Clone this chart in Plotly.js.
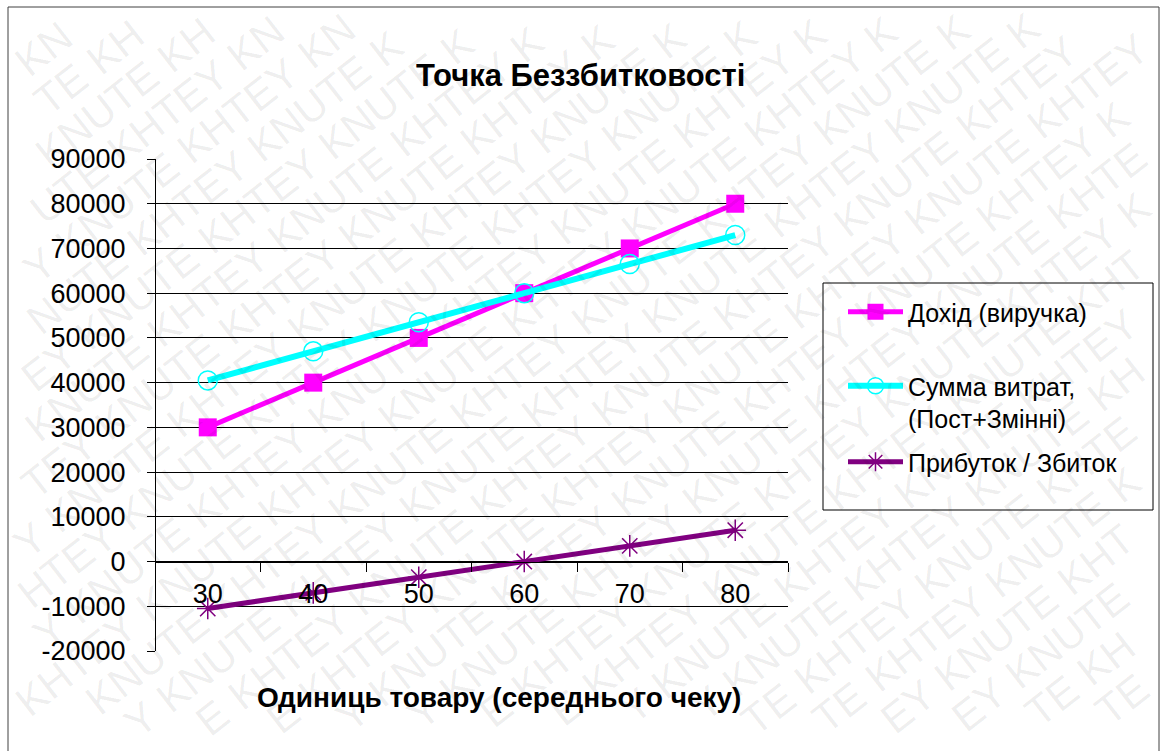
<!DOCTYPE html>
<html>
<head>
<meta charset="utf-8">
<script src="https://cdn.plot.ly/plotly-3.0.1.min.js"></script>
<style>
  html, body { margin: 0; padding: 0; background: #fff; }
  #chart { width: 1165px; height: 751px; }
</style>
</head>
<body>
<div id="chart"></div>
<script>
// ---- data ----
const categories = ['30', '40', '50', '60', '70', '80'];
const revenue = [30000, 40000, 50000, 60000, 70000, 80000];
const totalCosts = [40500, 47000, 53500, 60000, 66500, 73000];
const profit = [-10500, -7000, -3500, 0, 3500, 7000];
const yTickVals = [-20000, -10000, 0, 10000, 20000, 30000, 40000, 50000, 60000, 70000, 80000, 90000];
const yTickText = ['-20000', '-10000', '0', '10000', '20000', '30000', '40000', '50000', '60000', '70000', '80000', '90000'];
const seriesNames = ['Дохід (виручка)', 'Сумма витрат,<br>(Пост+Змінні)', 'Прибуток / Збиток'];
const chartTitle = 'Точка Беззбитковості';
const xTitle = 'Одиниць товару (середнього чеку)';
const watermarkWords = ['KHTEY', 'KNUTE'];

// ---- layout helpers (pixel -> paper) ----
const W = 1165, H = 751;
const PL = 155, PR = 788, PT = 159, PB = 651;
const px = p => (p - PL) / (PR - PL);
const py = p => (PB - p) / (PB - PT);
const FONT = 'Liberation Sans, Arial, sans-serif';
const yMin = yTickVals[0], yMax = yTickVals[yTickVals.length - 1];

const traces = [
  {
    x: categories, y: revenue, name: seriesNames[0], type: 'scatter', mode: 'lines+markers',
    line: { color: '#FF00FF', width: 5 },
    marker: { symbol: 'square', size: 18, color: '#FF00FF' },
    legend: 'legend'
  },
  {
    x: categories, y: totalCosts, name: seriesNames[1], type: 'scatter', mode: 'lines+markers',
    line: { color: '#00FFFF', width: 6 },
    marker: { symbol: 'circle-open', size: 19, color: '#00FFFF', line: { width: 1.5, color: '#00FFFF' } },
    legend: 'legend2'
  },
  {
    x: categories, y: profit, name: seriesNames[2], type: 'scatter', mode: 'lines+markers',
    line: { color: '#800080', width: 5 },
    marker: { symbol: 'asterisk-open', size: 18, color: '#800080', line: { width: 1.5, color: '#800080' } },
    legend: 'legend3'
  }
];

// watermark: words on a rotated grid; near the edges fall back to single letters that fit
const annotations = [];
const WM_SIZE = 42, WM_DEG = 38, WM_ANGLE = WM_DEG * Math.PI / 180;
const dirX = Math.cos(WM_ANGLE), dirY = -Math.sin(WM_ANGLE);
const perX = Math.sin(WM_ANGLE), perY = Math.cos(WM_ANGLE);
const rowGap = 42, wordStep = 154;
const halfH = 0.6 * WM_SIZE;
const adv = { K: 0.667, H: 0.722, T: 0.611, E: 0.667, Y: 0.667, N: 0.722, U: 0.722 };
const fits = (cx, cy, hw) => {
  for (const sa of [-1, 1]) for (const sb of [-1, 1]) {
    const qx = cx + sa * hw * dirX + sb * halfH * perX;
    const qy = cy + sa * hw * dirY + sb * halfH * perY;
    if (qx < 1 || qx > W - 1 || qy < 1 || qy > H - 1) return false;
  }
  return true;
};
const addWm = (cx, cy, txt) => annotations.push({
  xref: 'paper', yref: 'paper', x: px(cx), y: py(cy),
  text: txt, textangle: -WM_DEG, showarrow: false,
  xanchor: 'center', yanchor: 'middle',
  font: { family: FONT, size: WM_SIZE, color: 'rgba(0,0,0,0.07)' }
});
for (let i = -22; i <= 22; i++) {
  for (let j = -14; j <= 14; j++) {
    const along = j * wordStep + ((i % 2 + 2) % 2) * (wordStep / 2) - i * 20;
    const cx = 582 + i * rowGap * perX + along * dirX;
    const cy = 375 + i * rowGap * perY + along * dirY;
    const word = watermarkWords[((i + j) % 2 + 2) % 2];
    const widths = word.split('').map(c => adv[c] * WM_SIZE);
    const total = widths.reduce((a, b) => a + b, 0);
    if (fits(cx, cy, total / 2 + 2)) { addWm(cx, cy, word); continue; }
    let off = -total / 2;
    word.split('').forEach((c, k) => {
      const lc = off + widths[k] / 2;
      off += widths[k];
      const lx = cx + lc * dirX, ly = cy + lc * dirY;
      if (fits(lx, ly, widths[k] / 2 + 1)) addWm(lx, ly, c);
    });
  }
}
// x axis title
annotations.push({
  xref: 'paper', yref: 'paper', x: px(499), y: py(697),
  text: xTitle, showarrow: false, xanchor: 'center', yanchor: 'middle',
  font: { family: FONT, size: 28, color: '#000', weight: 'bold' }
});

const legendCommon = {
  bgcolor: 'rgba(0,0,0,0)', borderwidth: 0,
  font: { family: FONT, size: 25, color: '#000' },
  xanchor: 'left', yanchor: 'middle', itemwidth: 55, tracegroupgap: 0
};

const layout = {
  width: W, height: H,
  margin: { l: PL, r: W - PR, t: PT, b: H - PB, pad: 0 },
  paper_bgcolor: '#fff', plot_bgcolor: '#fff',
  font: { family: FONT, color: '#000' },
  showlegend: true,
  title: {
    text: chartTitle, xref: 'container', yref: 'container', x: 0.4985, y: 1 - 75 / H,
    xanchor: 'center', yanchor: 'middle',
    font: { family: FONT, size: 31, color: '#000', weight: 'bold' }
  },
  xaxis: {
    type: 'category', range: [-0.5, categories.length - 0.5],
    anchor: 'free', position: (0 - yMin) / (yMax - yMin),
    showline: true, linecolor: '#000', linewidth: 1,
    ticks: 'outside', ticklen: 9, tickcolor: '#000', tickwidth: 1, tickson: 'boundaries',
    showgrid: false, zeroline: false,
    tickfont: { family: FONT, size: 27, color: '#000' },
    ticklabelstandoff: 8,
    fixedrange: true
  },
  yaxis: {
    range: [yMin, yMax], anchor: 'free', position: 0,
    tickmode: 'array', tickvals: yTickVals, ticktext: yTickText,
    showline: true, linecolor: '#000', linewidth: 1,
    ticks: 'outside', ticklen: 8, tickcolor: '#000', tickwidth: 1,
    showgrid: true, gridcolor: '#000', gridwidth: 1, zeroline: false,
    tickfont: { family: FONT, size: 27, color: '#000' },
    ticklabelstandoff: 16,
    fixedrange: true
  },
  legend: Object.assign({}, legendCommon, { x: px(843), y: py(312) }),
  legend2: Object.assign({}, legendCommon, { x: px(843), y: py(402), valign: 'top' }),
  legend3: Object.assign({}, legendCommon, { x: px(843), y: py(462) }),
  shapes: [
    { type: 'rect', xref: 'paper', yref: 'paper', x0: px(8), x1: px(1159), y0: py(7), y1: py(790),
      line: { color: '#404040', width: 1 }, fillcolor: 'rgba(0,0,0,0)', layer: 'above' },
    { type: 'rect', xref: 'paper', yref: 'paper', x0: px(823), x1: px(1153), y0: py(283), y1: py(510),
      line: { color: '#000', width: 1 }, fillcolor: 'rgba(0,0,0,0)', layer: 'above' }
  ],
  annotations: annotations
};

Plotly.newPlot('chart', traces, layout, { displayModeBar: false, staticPlot: true });
</script>
</body>
</html>
